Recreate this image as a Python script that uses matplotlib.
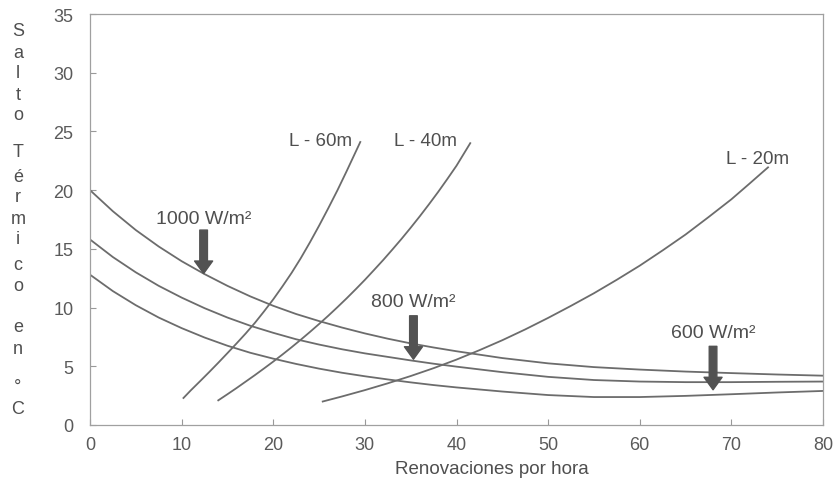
import matplotlib
matplotlib.use('Agg')
import matplotlib.pyplot as plt

plt.rcParams['font.family'] = ['Liberation Sans', 'DejaVu Sans']

# decreasing curves: temperature rise vs air changes per hour, by irradiance
x_rad = [0, 2.5, 5, 7.5, 10, 12.5, 15, 17.5, 20, 22.5, 25, 27.5, 30, 32.5, 35, 37.5, 40,
         45, 50, 55, 60, 65, 70, 75, 80]
y_1000 = [20.0, 18.2, 16.6, 15.2, 13.95, 12.85, 11.85, 10.95, 10.15, 9.45, 8.85, 8.3, 7.8,
          7.35, 6.95, 6.6, 6.28, 5.7, 5.25, 4.93, 4.72, 4.55, 4.42, 4.3, 4.2]
y_800 = [15.8, 14.3, 13.0, 11.85, 10.85, 9.95, 9.15, 8.45, 7.85, 7.3, 6.85, 6.45, 6.1,
         5.8, 5.5, 5.22, 4.97, 4.5, 4.1, 3.83, 3.7, 3.65, 3.65, 3.68, 3.7]
y_600 = [12.8, 11.4, 10.2, 9.15, 8.25, 7.45, 6.75, 6.15, 5.65, 5.2, 4.8, 4.45, 4.15,
         3.88, 3.63, 3.4, 3.2, 2.85, 2.55, 2.38, 2.38, 2.48, 2.62, 2.77, 2.9]

# increasing curves, by length
x_60 = [10.2, 11, 12, 13, 14, 15, 16, 17, 18, 19, 20, 21, 22, 23, 24, 25, 26, 27, 28, 28.75, 29.5]
y_60 = [2.3, 2.95, 3.72, 4.5, 5.3, 6.12, 6.95, 7.8, 8.7, 9.68, 10.7, 11.8, 12.95, 14.2,
        15.55, 16.97, 18.45, 19.98, 21.6, 22.85, 24.1]
x_40 = [14, 15, 16, 17, 18, 19, 20, 21, 22, 23, 24, 25, 26, 27, 28, 29, 30, 31, 32, 33,
        34, 35, 36, 37, 38, 39, 40, 41.5]
y_40 = [2.1, 2.62, 3.15, 3.7, 4.25, 4.82, 5.4, 6.0, 6.62, 7.26, 7.92, 8.6, 9.3, 10.03,
        10.78, 11.56, 12.36, 13.2, 14.05, 14.94, 15.85, 16.8, 17.78, 18.8, 19.85, 20.95,
        22.08, 24.0]
x_20 = [25.4, 27.5, 30, 32.5, 35, 37.5, 40, 42.5, 45, 47.5, 50, 52.5, 55, 57.5, 60, 62.5,
        65, 67.5, 70, 72, 74]
y_20 = [2.0, 2.43, 2.97, 3.55, 4.17, 4.84, 5.57, 6.37, 7.22, 8.14, 9.12, 10.15, 11.22,
        12.37, 13.57, 14.87, 16.22, 17.7, 19.22, 20.57, 21.94]

# arrow labels: (text, x, tip y, tail y, text y)
arrows = [('1000 W/m²', 12.4, 12.9, 16.6, 17.6),
          ('800 W/m²', 35.3, 5.6, 9.3, 10.5),
          ('600 W/m²', 68.0, 3.0, 6.7, 7.9)]
length_labels = [('L - 60m', 25.2, 24.2), ('L - 40m', 36.6, 24.2), ('L - 20m', 72.9, 22.7)]

ylabel_letters = ['S', 'a', 'l', 't', 'o', 'T', 'é', 'r', 'm', 'i', 'c', 'o', 'e', 'n', '°', 'C']
ylabel_rows = [32, 53, 73, 95, 115, 153, 177, 197, 219, 240, 265, 287, 328, 350, 387, 410]

line_c = '#6c6c6c'
text_c = '#4f4f4f'

fig = plt.figure(figsize=(8.37, 4.89), dpi=100)
ax = fig.add_axes([90 / 837, 1 - 426 / 489, 733 / 837, 411 / 489])

for y in (y_1000, y_800, y_600):
    ax.plot(x_rad, y, color=line_c, lw=1.3, solid_joinstyle='round')
for xs, ys in ((x_60, y_60), (x_40, y_40), (x_20, y_20)):
    ax.plot(xs, ys, color=line_c, lw=1.3, solid_joinstyle='round')

for txt, xa, tip, tail, ty in arrows:
    ax.annotate('', xy=(xa, tip), xytext=(xa, tail),
                arrowprops=dict(arrowstyle='simple,head_length=0.9,head_width=1.3,tail_width=0.55',
                                mutation_scale=10, color='#525252', shrinkA=0, shrinkB=0))
    ax.text(xa, ty, txt, ha='center', va='center', fontsize=14, color=text_c)

for txt, lx, ly in length_labels:
    ax.text(lx, ly, txt, ha='center', va='center', fontsize=13.5, color=text_c)

ax.set_xlim(0, 80)
ax.set_ylim(0, 35)
ax.set_xticks(range(0, 81, 10))
ax.set_yticks(range(0, 36, 5))
ax.tick_params(direction='in', length=4, width=0.8, color='#999999',
               labelsize=13, labelcolor='#5a5a5a')
ax.tick_params(axis='y', pad=12)
ax.tick_params(axis='x', pad=8)
for s in ax.spines.values():
    s.set_color('#a0a0a0')
    s.set_linewidth(0.9)

ax.set_xlabel('Renovaciones por hora', fontsize=13.5, color=text_c)
ax.xaxis.set_label_coords(0.548, -0.085)

for ch, row in zip(ylabel_letters, ylabel_rows):
    fig.text(18 / 837, 1 - row / 489, ch, ha='center', va='center',
             fontsize=13, color=text_c)

fig.savefig('out.png', dpi=100)
